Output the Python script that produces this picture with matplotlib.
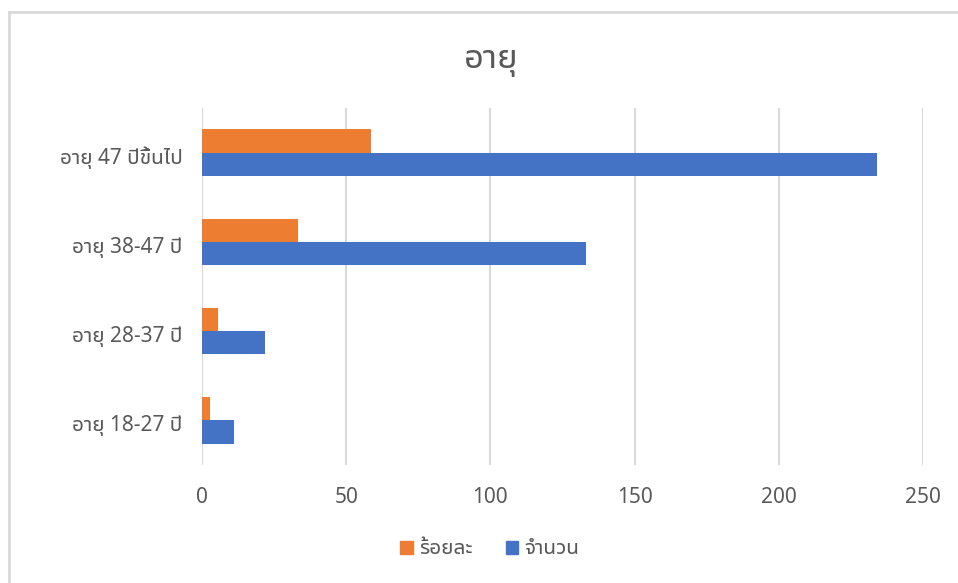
import matplotlib
matplotlib.use("Agg")
import matplotlib.pyplot as plt
import matplotlib.font_manager as fm
from matplotlib.ft2font import FT2Font
from matplotlib.patches import Rectangle
from matplotlib.lines import Line2D
import matplotlib.transforms as mtransforms
import numpy as np

categories = ["อายุ 18-27 ปี", "อายุ 28-37 ปี", "อายุ 38-47 ปี", "อายุ 47 ปีขึ้นไป"]
percent = [2.75, 5.5, 33.25, 58.5]
count = [11, 22, 133, 234]
series_names = ["ร้อยละ", "จำนวน"]
xticks = [0, 50, 100, 150, 200, 250]
title = "อายุ"

# find fonts that contain Thai glyphs
thai = []
for f in fm.fontManager.ttflist:
    try:
        cm = FT2Font(f.fname).get_charmap()
        if 0x0E2D in cm and 0x0E38 in cm:
            if f.name not in thai:
                thai.append(f.name)
    except Exception:
        pass
pref = ["Tahoma", "Leelawadee UI", "Noto Sans Thai UI", "Noto Sans Thai", "Sarabun", "Loma", "Garuda"]
thai_sorted = [p for p in pref if p in thai] + [t for t in thai if t not in pref]
plt.rcParams['font.family'] = thai_sorted[:3] + ['DejaVu Sans']

GRAY = "#595959"
ORANGE = "#ED7D31"
BLUE = "#4472C4"
GRID = "#D9D9D9"

fig = plt.figure(figsize=(9.58, 5.83), dpi=100)
W, H = 958, 583
ax = fig.add_axes([202 / W, 1 - 465 / H, 721 / W, 357 / H])

y = np.arange(len(categories))
h = 1 / (2 + 1.82)
ax.barh(y + h / 2, percent, height=h, color=ORANGE, zorder=3)
ax.barh(y - h / 2, count, height=h, color=BLUE, zorder=3)

ax.set_xlim(0, 250)
ax.set_ylim(-0.5, 3.5)
ax.set_xticks(xticks)
ax.set_xticklabels([str(t) for t in xticks])
ax.set_yticks(y)
ax.set_yticklabels(categories)
ax.tick_params(axis='both', length=0, labelsize=15, colors=GRAY)
ax.tick_params(axis='x', pad=16)
ax.tick_params(axis='y', pad=14)
# nudge category labels slightly down, as in the reference
offset = mtransforms.ScaledTranslation(0, -3 / 100, fig.dpi_scale_trans)
for lbl in ax.get_yticklabels():
    lbl.set_transform(lbl.get_transform() + offset)
for s in ax.spines.values():
    s.set_visible(False)
ax.grid(axis='x', color=GRID, linewidth=1.5, zorder=0)
ax.set_axisbelow(True)

fig.text(491 / W, 1 - 60 / H, title, ha='center', va='center', fontsize=25, color=GRAY)

handles = [Rectangle((0, 0), 1, 1, color=ORANGE), Rectangle((0, 0), 1, 1, color=BLUE)]
fig.legend(handles, series_names, loc='center', bbox_to_anchor=(490 / W, 1 - 549 / H),
           ncol=2, frameon=False, fontsize=15, labelcolor=GRAY,
           handlelength=0.6, handleheight=0.6, handletextpad=0.3, columnspacing=1.6)

# chart border (left and top visible)
fig.add_artist(Line2D([9 / W, 9 / W], [0, 1 - 12 / H], color=GRID, linewidth=2, transform=fig.transFigure))
fig.add_artist(Line2D([9 / W, 1], [1 - 12 / H, 1 - 12 / H], color=GRID, linewidth=2, transform=fig.transFigure))

fig.savefig("out.png", dpi=100)
